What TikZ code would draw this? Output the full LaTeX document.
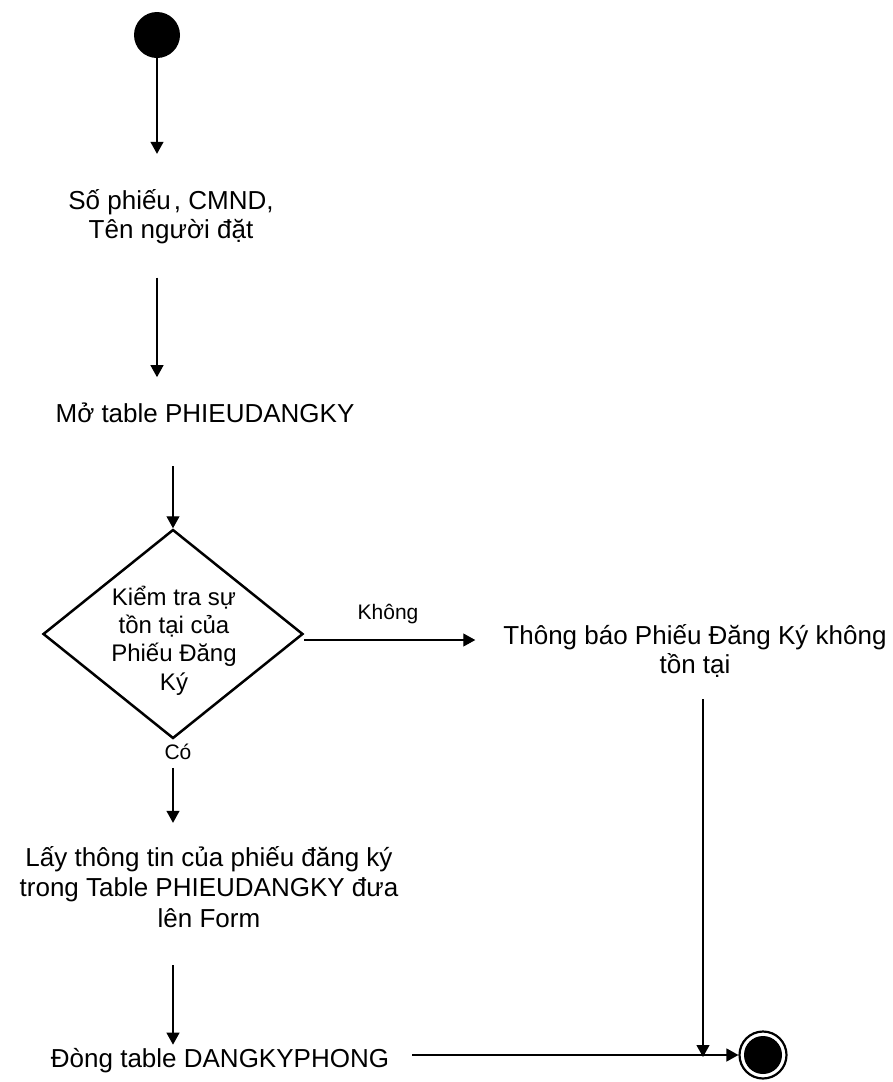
\documentclass[tikz,border=0pt]{standalone}
\usepackage{fontspec}
\setmainfont{Liberation Sans}
\usetikzlibrary{shapes.geometric,arrows.meta,calc}
\begin{document}
\begin{tikzpicture}[x=1pt,y=-1pt,
  flow/.style={line width=1.1pt,-{Triangle[length=12pt,width=13pt]}},
  txt/.style={align=center,inner sep=0pt,font=\fontsize{26}{29}\selectfont},
  dtxt/.style={align=center,inner sep=0pt,font=\fontsize{24}{28.3}\selectfont},
  lbl/.style={inner sep=0pt,font=\fontsize{21}{25}\selectfont},
  initial/.style={circle,fill=black,minimum size=46pt,inner sep=0pt},
  final/.style={circle,draw=black,line width=2.2pt,fill=white,minimum size=47pt,inner sep=0pt,
    path picture={\fill[black] (path picture bounding box.center) circle (19pt);}},
  decision/.style={diamond,draw=black,line width=2.5pt,minimum width=260pt,minimum height=209pt,
    inner sep=0pt,aspect=1.24}]
\useasboundingbox (0,0) rectangle (892,1082);

% states and actions (multi-line nodes are placed by the baseline of their last line)
\node[initial] (start) at (157,35) {};
\node[txt,anchor=base] (n1) at (171,238) {Số phiếu\hspace{3pt}, CMND,\\Tên người đặt};
\node[txt,anchor=base] (n2) at (205,422) {Mở table PHIEUDANGKY};
\node[decision] (dec) at (173,634) {};
\node[dtxt,anchor=base] (dect) at (174,690) {Kiểm tra sự\\tồn tại của\\Phiếu Đăng\\Ký};
\node[txt,anchor=base] (n3) at (695,673) {Thông báo Phiếu Đăng Ký không\\tồn tại};
\node[txt,anchor=base,font=\fontsize{26}{30.5}\selectfont] (n4) at (209,927)
  {Lấy thông tin của phiếu đăng ký\\trong Table PHIEUDANGKY đưa\\lên Form};
\node[txt,anchor=base] (n5) at (220,1067) {Đòng table DANGKYPHONG};
\node[final] (end) at (763,1055) {};

% guard labels
\node[lbl,anchor=base] (no) at (388,619) {Không};
\node[lbl,anchor=base] (yes) at (178,759) {Có};

% transitions
\draw[flow,shorten >=35pt] (start.south) -- (start.south |- n1.north);
\draw[flow,shorten <=34pt,shorten >=25pt] (n1.south -| start) -- (n2.north -| start);
\draw[flow,shorten <=44pt] (n2.south -| dec.north) -- (dec.north);
\draw[flow,shorten >=28pt] ([yshift=-6pt]dec.east) -- ([yshift=-6pt]dec.east -| n3.west);
\draw[flow,shorten <=28pt,shorten >=23pt] (dec.south) -- (dec.south |- n4.north);
\draw[flow,shorten <=38pt,shorten >=3pt] (n4.south -| dec.south) -- (n5.north -| dec.south);
\draw[flow,shorten <=22pt,shorten >=-2pt] ([xshift=8pt]n3.south) -- ([xshift=8pt]n3.south |- end.center);
\draw[flow,line width=1.5pt,shorten <=23pt] (n5.east |- end.center) -- (end.west);
\end{tikzpicture}
\end{document}
